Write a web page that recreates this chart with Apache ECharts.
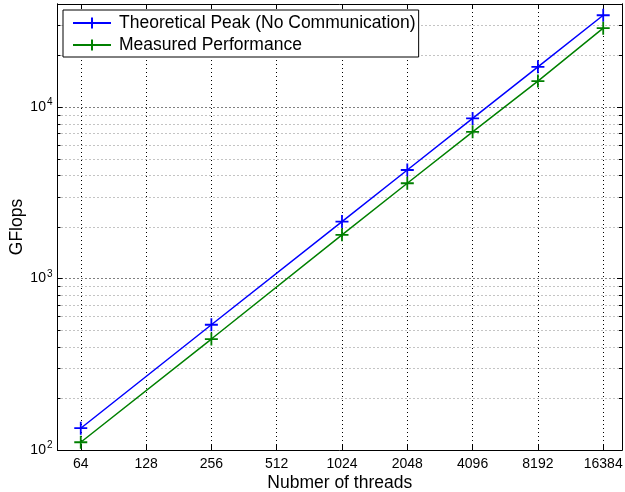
<!DOCTYPE html>
<html>
<head>
<meta charset="utf-8">
<script src="https://cdn.jsdelivr.net/npm/echarts@6/dist/echarts.min.js"></script>
<style>html,body{margin:0;padding:0;background:#fff;}#c{width:625px;height:492px;}</style>
</head>
<body>
<div id="c"></div>
<script>
const threads = [64, 256, 1024, 2048, 4096, 8192, 16384];
const theoretical = [134, 538, 2150, 4300, 8600, 17200, 34400];
const measured = [111, 444, 1800, 3600, 7180, 14200, 28900];
const xTicks = [64, 128, 256, 512, 1024, 2048, 4096, 8192, 16384];
const yTicks = [100, 1000, 10000];
const yMinor = [200,300,400,500,600,700,800,900,2000,3000,4000,5000,6000,7000,8000,9000,20000,30000,40000];
const seriesNames = ['Theoretical Peak (No Communication)', 'Measured Performance'];

const FONT = 'Liberation Sans, Arial, Helvetica, sans-serif';
const plus = 'path://M0,-1L0,1M-1,0L1,0';

function xAxisCfg(pos, show) {
  return {
    type: 'log', logBase: 2, min: 50, max: 20000, position: pos,
    name: show ? 'Nubmer of threads' : '',
    nameLocation: 'middle', nameGap: 24, nameMoveOverlap: false,
    nameTextStyle: {fontFamily: FONT, fontSize: 17.5, color: '#000'},
    axisLine: {show: true, onZero: false, lineStyle: {color: '#000', width: 1}},
    axisTick: {show: true, inside: true, length: 5, customValues: xTicks, lineStyle: {color: '#000'}},
    axisLabel: {show: show, customValues: xTicks, margin: 7, fontFamily: FONT, fontSize: 14, color: '#000',
      formatter: v => String(Math.round(v))},
    splitLine: {show: show, lineStyle: {color: '#000', type: [1, 3], width: 1}},
    minorTick: {show: false}
  };
}
function yAxisCfg(pos, ticks, major, labels, grid) {
  return {
    type: 'log', logBase: 10, min: 100, max: 40000, position: pos,
    name: labels ? 'GFlops' : '',
    nameLocation: 'middle', nameGap: 31, nameRotate: 90, nameMoveOverlap: false,
    nameTextStyle: {fontFamily: FONT, fontSize: 17.5, color: '#000'},
    axisLine: {show: true, onZero: false, lineStyle: {color: '#000', width: 1}},
    axisTick: {show: true, inside: true, length: major ? 5 : 3, customValues: ticks, lineStyle: {color: '#000'}},
    axisLabel: {show: labels, customValues: ticks, margin: 5, fontFamily: FONT, fontSize: 14, color: '#000',
      formatter: v => '10{s|' + Math.round(Math.log10(v)) + '}',
      rich: {s: {fontSize: 10, fontFamily: FONT, color: '#000', padding: [0, 0, 9, 1]}}},
    splitLine: {show: grid, lineStyle: {color: major ? '#000' : '#888', type: [1, 3], width: 1}},
    minorTick: {show: false}
  };
}

const chart = echarts.init(document.getElementById('c'));
chart.setOption({
  animation: false,
  backgroundColor: '#fff',
  grid: {left: 57.5, right: 3, top: 4, bottom: 42, containLabel: false, outerBoundsMode: 'none'},
  legend: {
    show: true, orient: 'vertical', left: 63, top: 10,
    backgroundColor: '#fff', borderColor: '#000', borderWidth: 1, borderRadius: 0,
    padding: [4, 3, 3, 9], itemGap: 4, itemWidth: 38, itemHeight: 14,
    textStyle: {fontFamily: FONT, fontSize: 17.5, color: '#000', padding: [0, 0, 0, 3]},
    data: seriesNames
  },
  xAxis: [xAxisCfg('bottom', true), xAxisCfg('top', false)],
  yAxis: [
    yAxisCfg('left', yTicks, true, true, true),
    yAxisCfg('left', yMinor, false, false, true),
    yAxisCfg('right', yTicks, true, false, false),
    yAxisCfg('right', yMinor, false, false, false)
  ],
  series: [
    {name: seriesNames[0], type: 'line', xAxisIndex: 0, yAxisIndex: 0,
     data: threads.map((t, i) => [t, theoretical[i]]),
     symbol: plus, symbolSize: 13, showSymbol: true,
     lineStyle: {color: '#0000ff', width: 1.5},
     itemStyle: {color: '#0000ff', borderColor: '#0000ff', borderWidth: 1.8}},
    {name: seriesNames[1], type: 'line', xAxisIndex: 0, yAxisIndex: 0,
     data: threads.map((t, i) => [t, measured[i]]),
     symbol: plus, symbolSize: 13, showSymbol: true,
     lineStyle: {color: '#008000', width: 1.5},
     itemStyle: {color: '#008000', borderColor: '#008000', borderWidth: 1.8}}
  ]
});
</script>
</body>
</html>
